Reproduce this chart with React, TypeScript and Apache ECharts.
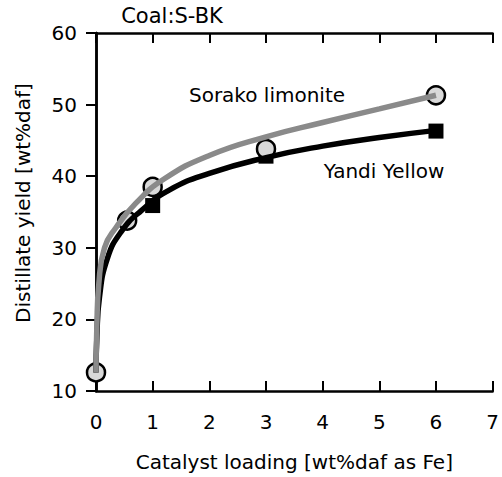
import React, { useEffect, useRef } from "react";
import * as echarts from "echarts";

const xTicks = [0, 1, 2, 3, 4, 5, 6, 7];
const yTicks = [10, 20, 30, 40, 50, 60];

// measured points
const sorakoPoints: [number, number][] = [
  [0, 12.6], [0.55, 33.8], [1, 38.5], [3, 43.8], [6, 51.3],
];
const yandiPoints: [number, number][] = [
  [1, 35.9], [3, 42.8], [6, 46.3],
];

// fitted curves
const sorakoCurve: [number, number][] = [
  [0, 12.6], [0.015, 19], [0.05, 25], [0.15, 30], [0.35, 32.8],
  [0.7, 36.2], [1.2, 39.6], [2, 42.9], [3, 45.5], [4, 47.5], [5, 49.4], [6, 51.3],
];
const yandiCurve: [number, number][] = [
  [0, 12.6], [0.015, 17.5], [0.06, 23], [0.2, 28.5], [0.45, 32.3],
  [0.8, 35.2], [1.3, 38.1], [2, 40.4], [3, 42.6], [4, 44.2], [5, 45.4], [6, 46.4],
];

const FONT = "DejaVu Sans";
const FS = 20;

export default function App() {
  const ref = useRef<HTMLDivElement>(null);
  useEffect(() => {
    if (!ref.current) return;
    const chart = echarts.init(ref.current, null, { renderer: "svg" });
    const axisLine = { show: true, lineStyle: { color: "#000", width: 2.5 } };
    const tickStyle = { color: "#000", width: 2 };
    chart.setOption({
      animation: false,
      backgroundColor: "#fff",
      grid: { left: 96, top: 33, right: 9, bottom: 84, containLabel: false },
      xAxis: [
        {
          type: "value",
          min: xTicks[0],
          max: xTicks[xTicks.length - 1],
          interval: 1,
          position: "bottom",
          axisLine,
          axisTick: { show: true, inside: true, length: 10, lineStyle: tickStyle },
          splitLine: { show: false },
          axisLabel: { margin: 21, color: "#000", fontFamily: FONT, fontSize: FS },
          name: "Catalyst loading [wt%daf as Fe]",
          nameLocation: "middle",
          nameGap: 61,
          nameTextStyle: { color: "#000", fontFamily: FONT, fontSize: FS },
        },
        {
          type: "value",
          min: xTicks[0],
          max: xTicks[xTicks.length - 1],
          interval: 1,
          position: "top",
          axisLine,
          axisTick: { show: true, inside: true, length: 10, lineStyle: tickStyle },
          splitLine: { show: false },
          axisLabel: { show: false },
        },
      ],
      yAxis: [
        {
          type: "value",
          min: yTicks[0],
          max: yTicks[yTicks.length - 1],
          interval: 10,
          position: "left",
          axisLine,
          axisTick: { show: true, inside: false, length: 10, lineStyle: tickStyle },
          splitLine: { show: false },
          axisLabel: { margin: 19, color: "#000", fontFamily: FONT, fontSize: FS },
          name: "Distillate yield [wt%daf]",
          nameLocation: "middle",
          nameGap: 63,
          nameTextStyle: { color: "#000", fontFamily: FONT, fontSize: FS, padding: [0, 0, 0, 18] },
        },
        {
          type: "value",
          min: yTicks[0],
          max: yTicks[yTicks.length - 1],
          interval: 10,
          position: "right",
          axisLine,
          axisTick: { show: true, inside: true, length: 10, lineStyle: tickStyle },
          splitLine: { show: false },
          axisLabel: { show: false },
        },
      ],
      graphic: [
        {
          type: "text",
          x: 172,
          y: 16,
          style: {
            text: "Coal:S-BK",
            fill: "#000",
            font: `21px '${FONT}'`,
            align: "center",
            verticalAlign: "middle",
          },
        },
        {
          type: "text",
          x: 267,
          y: 95,
          style: {
            text: "Sorako limonite",
            fill: "#000",
            font: `${FS}px '${FONT}'`,
            align: "center",
            verticalAlign: "middle",
          },
          z: 10,
        },
        {
          type: "text",
          x: 384,
          y: 171,
          style: {
            text: "Yandi Yellow",
            fill: "#000",
            font: `${FS}px '${FONT}'`,
            align: "center",
            verticalAlign: "middle",
          },
          z: 10,
        },
      ],
      series: [
        {
          name: "Yandi Yellow fit",
          type: "line",
          data: yandiCurve,
          smooth: 0.5,
          showSymbol: false,
          lineStyle: { color: "#000", width: 5.5 },
        },
        {
          name: "Sorako limonite fit",
          type: "line",
          data: sorakoCurve,
          smooth: 0.5,
          showSymbol: false,
          lineStyle: { color: "#8a8a8a", width: 5.5 },
        },
        {
          name: "Yandi Yellow",
          type: "scatter",
          data: yandiPoints,
          symbol: "rect",
          symbolSize: 15,
          itemStyle: { color: "#000", opacity: 1 },
        },
        {
          name: "Sorako limonite",
          type: "scatter",
          data: sorakoPoints,
          symbol: "circle",
          symbolSize: 18,
          itemStyle: { color: "#d9d9d9", borderColor: "#000", borderWidth: 2.5, opacity: 1 },
        },
      ],
    });
    return () => chart.dispose();
  }, []);
  return (
    <div
      ref={ref}
      style={{ position: "absolute", left: 0, top: 0, width: 502, height: 477 }}
    />
  );
}
